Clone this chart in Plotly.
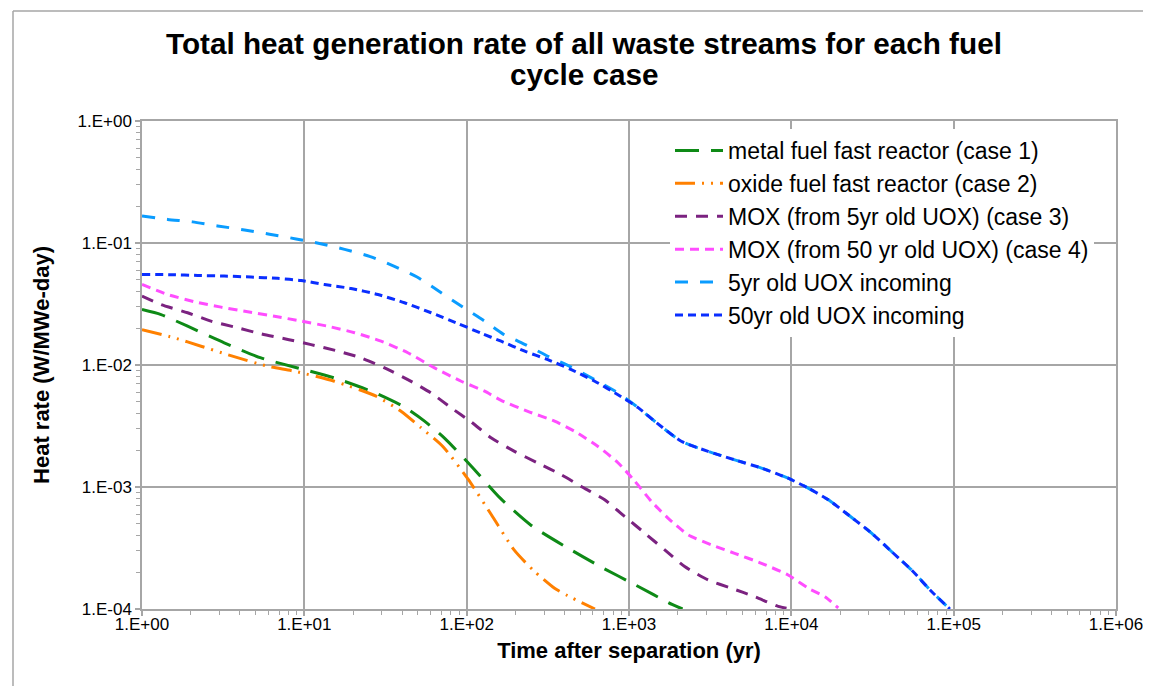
import plotly.graph_objects as go

# ---------------- data ----------------
metal_x = [1, 1.31, 1.91, 3.21, 5.41, 9.1, 15.3, 25.8, 41.4, 55, 73.8, 110, 161, 250, 405, 665, 1109, 1841, 2138]
metal_y = [0.0285, 0.0259, 0.0208, 0.0152, 0.01143, 0.00946, 0.00783, 0.0061, 0.00452, 0.00347, 0.00248,
           0.00142, 0.00081, 0.000484, 0.000325, 0.000223, 0.000156, 0.000109, 0.0001]

oxide_x = [1, 1.58, 2.31, 3.37, 5.94, 8.69, 15.3, 27.7, 39.4, 52.5, 71.3, 102, 142, 197, 258, 348, 417, 617]
oxide_y = [0.0195, 0.0167, 0.01426, 0.01216, 0.00977, 0.00889, 0.00736, 0.00555, 0.00418, 0.00305, 0.00215,
           0.00116, 0.000592, 0.000302, 0.000207, 0.000148, 0.000129, 0.0001]

mox5_x = [1, 1.31, 1.91, 2.66, 3.88, 5.41, 7.91, 11.0, 16.1, 22.4, 31.2, 43.4, 60.4, 80.4, 107, 142, 197, 275,
          383, 508, 708, 940, 1250, 1660, 2203, 3069, 4276, 5957, 8299, 10000]
mox5_y = [0.0367, 0.0313, 0.0268, 0.0229, 0.0202, 0.018, 0.0162, 0.0147, 0.013, 0.01143, 0.00946, 0.00759,
          0.00589, 0.00445, 0.0034, 0.00252, 0.00196, 0.00157, 0.00126, 0.00101, 0.000785, 0.000574, 0.000419,
          0.000305, 0.000223, 0.000173, 0.000148, 0.000126, 0.000105, 0.0001]

mox50_x = [1, 1.44, 2.1, 3.07, 4.48, 6.55, 9.55, 13.9, 20.4, 29.7, 43.4, 63.4, 92.5, 129, 163, 238, 348, 462,
           644, 855, 1084, 1374, 1738, 2312, 3214, 4477, 6546, 9550, 12700, 16100, 19450]
mox50_y = [0.0457, 0.0378, 0.033, 0.0298, 0.0273, 0.0251, 0.0229, 0.0208, 0.0184, 0.01567, 0.0126, 0.00946,
           0.00736, 0.0061, 0.00513, 0.00417, 0.00346, 0.00286, 0.00215, 0.00158, 0.00112, 0.000762, 0.000556,
           0.000406, 0.000336, 0.000286, 0.000237, 0.00019, 0.000148, 0.000126, 0.000102]

uox5_x = [1, 1.44, 2.05, 2.92, 4.28, 6.1, 8.9, 12.6, 17.7, 25.5, 35.6, 49.5, 69.7, 92.5, 129, 167, 233, 316,
          441, 614, 855, 1138, 1439, 2099, 3069, 4477, 6546, 9550, 12700, 16900, 22400, 31200, 41400, 55000,
          73100, 94800]
uox5_y = [0.1667, 0.156, 0.149, 0.138, 0.128, 0.118, 0.108, 0.0986, 0.0887, 0.0773, 0.0647, 0.0526, 0.0391,
          0.0304, 0.0229, 0.018, 0.01456, 0.0118, 0.0096, 0.00759, 0.0059, 0.00447, 0.00346, 0.00237, 0.00196,
          0.00167, 0.00143, 0.00118, 0.00098, 0.000785, 0.000592, 0.000419, 0.000296, 0.000209, 0.000139, 0.0001]

uox50_x = [1, 1.51, 2.2, 3.21, 4.7, 6.85, 9.55, 13.3, 19.4, 28.4, 41.4, 60.4, 88.3, 123, 163, 228, 316, 441,
           615, 855, 1138, 1439, 2099, 3069, 4477, 6546, 9550, 12700, 16900, 22400, 31200, 41400, 55000, 73100,
           94800]
uox50_y = [0.0552, 0.055, 0.0542, 0.0536, 0.0526, 0.0513, 0.0493, 0.0457, 0.0424, 0.0378, 0.0324, 0.0268,
           0.0219, 0.0182, 0.01567, 0.01297, 0.01107, 0.00916, 0.00736, 0.00571, 0.00447, 0.00346, 0.00237,
           0.00196, 0.00167, 0.00143, 0.00118, 0.00098, 0.000785, 0.000592, 0.000419, 0.000296, 0.000209,
           0.000139, 0.0001]

series_names = [
    "metal fuel fast reactor (case 1)",
    "oxide fuel fast reactor (case 2)",
    "MOX (from 5yr old UOX) (case 3)",
    "MOX (from 50 yr old UOX) (case 4)",
    "5yr old UOX incoming",
    "50yr old UOX incoming",
]

x_tick_vals = [1, 10, 100, 1000, 10000, 100000, 1000000]
x_tick_text = ["1.E+00", "1.E+01", "1.E+02", "1.E+03", "1.E+04", "1.E+05", "1.E+06"]
y_tick_vals = [0.0001, 0.001, 0.01, 0.1, 1]
y_tick_text = ["1.E-04", "1.E-03", "1.E-02", "1.E-01", "1.E+00"]

title_lines = ["Total heat generation rate of all waste streams for each fuel", "cycle case"]
x_title = "Time after separation (yr)"
y_title = "Heat rate (W/MWe-day)"

# ---------------- styling ----------------
styles = [
    dict(color="#0E8A16", dash="24px,12px"),
    dict(color="#FF8000", dash="20px,7px,2px,7px,2px,7px"),
    dict(color="#7B2280", dash="12px,9px"),
    dict(color="#FF4DFF", dash="9px,6px"),
    dict(color="#0A9CFF", dash="13px,12px"),
    dict(color="#0A2EFF", dash="8px,5px"),
]
data = [(metal_x, metal_y), (oxide_x, oxide_y), (mox5_x, mox5_y), (mox50_x, mox50_y),
        (uox5_x, uox5_y), (uox50_x, uox50_y)]

FONT = "Arial, Liberation Sans, sans-serif"
GRID = "#A6A6A6"
L, R, T, B = 134, 43, 113, 85
PW, PH = 1151 - L - R, 686 - T - B


def px_to_paper_x(px):
    return (px - L) / PW


def px_to_paper_y(py):
    return 1 - (py - T) / PH


fig = go.Figure()
for i, ((xs, ys), name, st) in enumerate(zip(data, series_names, styles)):
    fig.add_trace(go.Scatter(
        x=xs, y=ys, mode="lines", name=name, legendgroup=f"g{i}",
        line=dict(color=st["color"], dash=st["dash"], width=3, shape="spline", smoothing=0.6),
    ))

minor_x = [m * 10 ** k for k in range(0, 6) for m in range(2, 10)]
minor_y = [m * 10 ** k for k in range(-4, 0) for m in range(2, 10)]

fig.update_layout(
    width=1151, height=686,
    paper_bgcolor="white", plot_bgcolor="white",
    margin=dict(l=L, r=R, t=T, b=B),
    font=dict(family=FONT, color="#000"),
    legend=dict(x=px_to_paper_x(662), y=px_to_paper_y(121), xanchor="left", yanchor="top", bgcolor="white",
                font=dict(size=23, family=FONT, color="#000"), traceorder="grouped",
                tracegroupgap=0, itemwidth=48),
    showlegend=True,
)
for k, (line, cy) in enumerate(zip(title_lines, [35, 66])):
    fig.add_annotation(text="<b>" + line + "</b>", xref="paper", yref="paper",
                       x=px_to_paper_x(576), y=px_to_paper_y(cy), xanchor="center", yanchor="middle",
                       showarrow=False, font=dict(size=29.7, family=FONT, color="#000"))

fig.update_xaxes(
    type="log", range=[0, 6],
    tickmode="array", tickvals=x_tick_vals, ticktext=x_tick_text,
    tickfont=dict(size=17, family=FONT, color="#000"),
    ticks="outside", ticklen=5, tickcolor=GRID, tickwidth=1.5, ticklabelstandoff=-6,
    showgrid=True, gridcolor=GRID, gridwidth=1.5,
    showline=True, linecolor=GRID, linewidth=1.5, mirror=True,
    minor=dict(tickmode="array", tickvals=minor_x, ticks="outside", ticklen=4, tickcolor=GRID,
               tickwidth=1, showgrid=False),
    title=dict(text="<b>" + x_title + "</b>", font=dict(size=22, family=FONT, color="#000"), standoff=9),
)
fig.update_yaxes(
    type="log", range=[-4, 0],
    tickmode="array", tickvals=y_tick_vals, ticktext=y_tick_text,
    tickfont=dict(size=17, family=FONT, color="#000"),
    ticks="outside", ticklen=5, tickcolor=GRID, tickwidth=1.5,
    showgrid=True, gridcolor=GRID, gridwidth=1.5,
    showline=True, linecolor=GRID, linewidth=1.5, mirror=True,
    minor=dict(tickmode="array", tickvals=minor_y, ticks="outside", ticklen=4, tickcolor=GRID,
               tickwidth=1, showgrid=False),
    title=dict(text="<b>" + y_title + "</b>", font=dict(size=22, family=FONT, color="#000"), standoff=22),
)

# outer chart border (left and top edges visible in the reference)
fig.add_shape(type="line", xref="paper", yref="paper",
              x0=px_to_paper_x(5), x1=px_to_paper_x(1150), y0=px_to_paper_y(3), y1=px_to_paper_y(3),
              line=dict(color=GRID, width=1.5))
fig.add_shape(type="line", xref="paper", yref="paper",
              x0=px_to_paper_x(5), x1=px_to_paper_x(5), y0=px_to_paper_y(3), y1=px_to_paper_y(686),
              line=dict(color=GRID, width=1.5))

fig.write_html("out.html")
